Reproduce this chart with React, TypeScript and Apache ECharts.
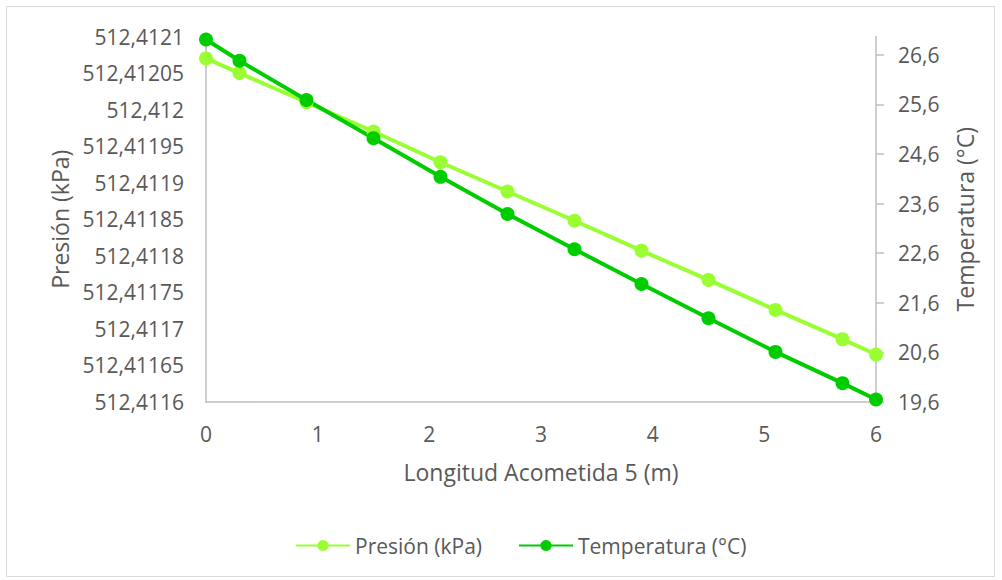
import React, { useEffect, useRef } from "react";
import * as echarts from "echarts";

// Longitud de la acometida (m)
const longitud = [0, 0.3, 0.9, 1.5, 2.1, 2.7, 3.3, 3.9, 4.5, 5.1, 5.7, 6];
// Presión (kPa)
const presion = [
  512.41207, 512.41205, 512.41201, 512.41197, 512.411928, 512.411888,
  512.411848, 512.411807, 512.411767, 512.411726, 512.411686, 512.411665,
];
// Temperatura (°C)
const temperatura = [
  26.91, 26.48, 25.69, 24.92, 24.14, 23.39, 22.68, 21.98, 21.29, 20.61, 19.98, 19.65,
];
// Marcas del eje de temperatura
const tempTicks = [19.6, 20.6, 21.6, 22.6, 23.6, 24.6, 25.6, 26.6];

const FONT = "'Open Sans', 'Noto Sans', sans-serif";
const TEXT = "#595959";
const AXIS = "#bfbfbf";
const C_PRES = "#99ff33";
const C_TEMP = "#00cc00";

const comma = (v: number, digits: number) =>
  String(parseFloat(v.toFixed(digits))).replace(".", ",");

export default function App() {
  const ref = useRef<HTMLDivElement>(null);

  useEffect(() => {
    if (!ref.current) return;
    const chart = echarts.init(ref.current, null, { renderer: "svg" });
    chart.setOption({
      animation: false,
      backgroundColor: "#ffffff",
      textStyle: { fontFamily: FONT, color: TEXT },
      graphic: [
        {
          type: "rect",
          shape: { x: 6.5, y: 6.5, width: 988, height: 570 },
          style: { fill: "none", stroke: "#d9d9d9", lineWidth: 1 },
          silent: true,
        },
      ],
      grid: { left: 206, right: 126, top: 36.5, bottom: 178, containLabel: false },
      legend: {
        bottom: 19,
        left: 290,
        itemWidth: 54,
        itemHeight: 14,
        itemGap: 36,
        textStyle: { fontFamily: FONT, fontSize: 21, color: TEXT },
        data: ["Presión (kPa)", "Temperatura (°C)"],
      },
      xAxis: {
        type: "value",
        min: 0,
        max: 6,
        interval: 1,
        name: "Longitud Acometida 5 (m)",
        nameLocation: "middle",
        nameGap: 58,
        nameTextStyle: { fontFamily: FONT, fontSize: 23, color: TEXT },
        axisLine: { show: true, lineStyle: { color: AXIS, width: 1.5 } },
        axisTick: { show: false },
        splitLine: { show: false },
        axisLabel: { fontFamily: FONT, fontSize: 21, color: TEXT, margin: 21 },
      },
      yAxis: [
        {
          type: "value",
          min: 512.4116,
          max: 512.4121,
          interval: 0.00005,
          position: "left",
          name: "Presión (kPa)",
          nameLocation: "middle",
          nameRotate: 90,
          nameGap: 130,
          nameTextStyle: { fontFamily: FONT, fontSize: 23, color: TEXT },
          axisLine: { show: true, lineStyle: { color: AXIS, width: 1.5 } },
          axisTick: { show: false },
          splitLine: { show: false },
          axisLabel: {
            fontFamily: FONT,
            fontSize: 21,
            color: TEXT,
            margin: 22,
            formatter: (v: number) => comma(v, 5),
          },
        },
        {
          type: "value",
          min: 19.6,
          max: 26.97,
          position: "right",
          name: "Temperatura (°C)",
          nameLocation: "middle",
          nameRotate: 90,
          nameGap: 77,
          nameTextStyle: { fontFamily: FONT, fontSize: 23, color: TEXT },
          axisLine: { show: true, lineStyle: { color: AXIS, width: 1.5 } },
          axisTick: {
            show: true,
            inside: false,
            length: 8,
            lineStyle: { color: AXIS, width: 1.5 },
            customValues: tempTicks,
          },
          splitLine: { show: false },
          axisLabel: {
            fontFamily: FONT,
            fontSize: 21,
            color: TEXT,
            margin: 22,
            customValues: tempTicks,
            formatter: (v: number) => comma(v, 1),
          },
        },
      ],
      series: [
        {
          name: "Presión (kPa)",
          type: "line",
          yAxisIndex: 0,
          data: longitud.map((x, i) => [x, presion[i]]),
          symbol: "circle",
          symbolSize: 14,
          itemStyle: { color: C_PRES },
          lineStyle: { color: C_PRES, width: 4 },
        },
        {
          name: "Temperatura (°C)",
          type: "line",
          yAxisIndex: 1,
          data: longitud.map((x, i) => [x, temperatura[i]]),
          symbol: "circle",
          symbolSize: 14,
          itemStyle: { color: C_TEMP },
          lineStyle: { color: C_TEMP, width: 4 },
        },
      ],
    });
    return () => chart.dispose();
  }, []);

  return (
    <div
      ref={ref}
      style={{ position: "absolute", left: 0, top: 0, width: 1002, height: 580 }}
    />
  );
}
